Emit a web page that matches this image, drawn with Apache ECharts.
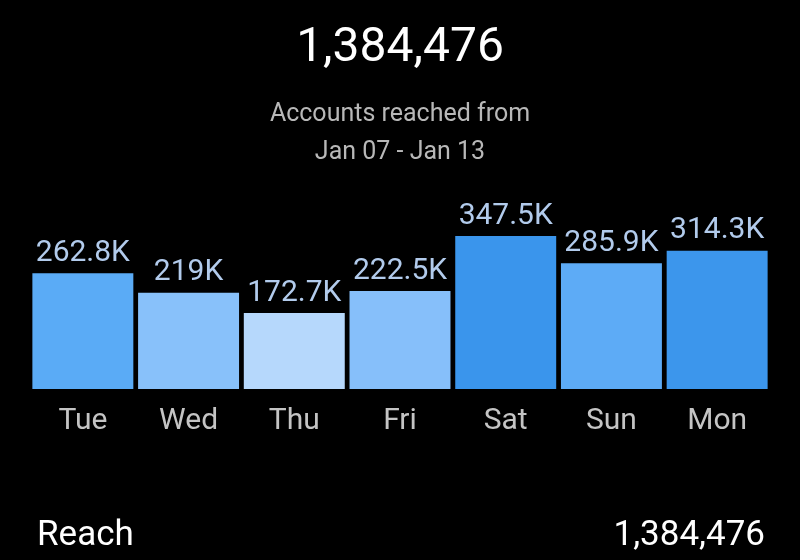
<!DOCTYPE html>
<html>
<head>
<meta charset="utf-8">
<script src="https://cdn.jsdelivr.net/npm/echarts@6/dist/echarts.min.js"></script>
<style>
  html, body { margin: 0; padding: 0; background: #000; }
  #chart { width: 800px; height: 560px; }
</style>
</head>
<body>
<div id="chart"></div>
<script>
// data (thousands of accounts)
const days = ["Tue", "Wed", "Thu", "Fri", "Sat", "Sun", "Mon"];
const reachK = [262.8, 219, 172.7, 222.5, 347.5, 285.9, 314.3];
const totalReach = "1,384,476";
const subtitle = "Accounts reached from";
const dateRange = "Jan 07 - Jan 13";

// bar fills, darker for busier days
const barColors = ["#5aabf6", "#88c1fa", "#b6d8fc", "#86bffa", "#3a95ec", "#5dabf6", "#3c96ec"];

const chart = echarts.init(document.getElementById("chart"));

const font = "Roboto, 'Noto Sans', sans-serif";

chart.setOption({
  backgroundColor: "#000",
  animation: false,
  grid: { left: 30, right: 30, top: 213, bottom: 171 },
  xAxis: {
    type: "category",
    data: days,
    axisLine: { show: false },
    axisTick: { show: false },
    axisLabel: { color: "#c4c4c4", fontSize: 30, fontFamily: font, margin: 17 }
  },
  yAxis: {
    type: "value",
    min: 0,
    max: 400,
    show: false,
    splitLine: { show: false }
  },
  series: [{
    type: "bar",
    data: reachK,
    barCategoryGap: "4.5%",
    itemStyle: {
      color: (p) => barColors[p.dataIndex]
    },
    label: {
      show: true,
      position: "top",
      distance: 5,
      color: "#b2cbec",
      fontSize: 30,
      fontFamily: font,
      formatter: (p) => p.value + "K"
    }
  }],
  graphic: [
    { type: "text", left: "center", top: 25,
      style: { text: totalReach, fill: "#fff", font: "48px " + font } },
    { type: "text", left: "center", top: 102,
      style: { text: subtitle, fill: "#b8b8b8", font: "25px " + font } },
    { type: "text", left: "center", top: 140,
      style: { text: dateRange, fill: "#b8b8b8", font: "25px " + font } },
    { type: "text", left: 37, top: 519,
      style: { text: "Reach", fill: "#fff", font: "35px " + font } },
    { type: "text", right: 35, top: 519,
      style: { text: totalReach, fill: "#fff", font: "35px " + font } }
  ]
});
</script>
</body>
</html>
